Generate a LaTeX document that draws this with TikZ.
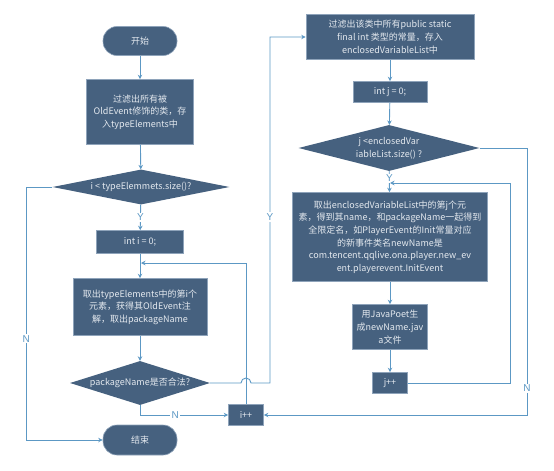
\documentclass[tikz,border=0pt]{standalone}
\usepackage{fontspec}
\setmainfont{Noto Sans CJK SC}
\newfontfamily\lblfont{Liberation Sans}
\usepackage{tikz}
\usetikzlibrary{shapes.geometric,arrows.meta}
\definecolor{boxfill}{HTML}{46617F}
\definecolor{boxedge}{HTML}{8EA3BA}
\definecolor{flow}{HTML}{5C98C4}
\definecolor{boxtext}{HTML}{E4E9EF}

\begin{document}
\begin{tikzpicture}[x=1pt, y=-1pt,
    every node/.style={font=\fontsize{9}{12.6}\selectfont, text=boxtext, align=center, inner sep=0pt},
    proc/.style={rectangle, fill=boxfill, draw=boxedge, line width=0.6pt},
    term/.style={proc, rounded corners=14pt},
    cond/.style={diamond, fill=boxfill, draw=none},
    line/.style={flow, line width=0.9pt, -{Stealth[length=4.5pt,width=4.5pt]}},
    yn/.style={text=flow, font=\lblfont\fontsize{10}{11}\selectfont, fill=white, inner sep=1.2pt}]
    \useasboundingbox (0,0) rectangle (554,471);

    \node[term, minimum width=74pt, minimum height=29pt] (start) at (140,41) {开始};
    \node[proc, minimum width=107pt, minimum height=65pt] (filt) at (140,112)
        {过滤出所有被\\OldEvent修饰的类，存\\入typeElements中};
    \node[cond, aspect=5, minimum width=177pt, minimum height=35pt] (cond1) at (141,187)
        {i < typeElemmets.size()?};
    \node[proc, minimum width=87pt, minimum height=23pt] (initi) at (140,242) {int i = 0;};
    \node[proc, minimum width=134pt, minimum height=57pt] (take) at (140,307)
        {取出typeElements中的第i个\\元素，获得其OldEvent注\\解，取出packageName};
    \node[cond, aspect=3.2, minimum width=140pt, minimum height=44pt] (cond2) at (140,383)
        {packageName是否合法?};
    \node[proc, minimum width=35pt, minimum height=21pt] (incri) at (246,415) {i++};
    \node[term, minimum width=74pt, minimum height=30pt] (stop) at (140,440) {结束};

    \node[proc, minimum width=168pt, minimum height=45pt] (filtj) at (390,37)
        {过滤出该类中所有public static\\final int 类型的常量，存入\\enclosedVariableList中};
    \node[proc, minimum width=74pt, minimum height=21pt] (initj) at (390,92) {int j = 0;};
    \node[cond, aspect=4, minimum width=181pt, minimum height=46pt] (cond3) at (389,148)
        {j <enclosedVar\\iableList.size() ?};
    \node[proc, minimum width=195pt, minimum height=89pt] (takej) at (390,237)
        {取出enclosedVariableList中的第j个元\\素，得到其name，和packageName一起得到\\全限定名，如PlayerEvent的Init常量对应\\的新事件类名newName是\\com.tencent.qqlive.ona.player.new\_ev\\ent.playerevent.InitEvent};
    \node[proc, minimum width=75pt, minimum height=45pt] (gen) at (390,327)
        {用JavaPoet生\\成newName.jav\\a文件};
    \node[proc, minimum width=35pt, minimum height=21pt] (incrj) at (390,383) {j++};

    \coordinate (loopi) at (141,263);
    \coordinate (loopj) at (390,183);

    \draw[line] (start) -- (filt);
    \draw[line] (filt) -- (cond1);
    \draw[line] (cond1) -- node[yn] {Y} (initi);
    \draw[line] (initi) -- (take);
    \draw[line] (take) -- (cond2);
    \draw[line] (cond2.south) |- node[yn, pos=0.7] {N} (incri.west);
    \draw[line] (cond1.west) -- ++(-26,0) |- node[yn, pos=0.3] {N} (stop.west);
    \draw[line] (incri.north) |- (loopi);
    \draw[line] (cond2.east) -- (241,383) arc[start angle=180, end angle=0, radius=5pt]
        -- (270,383) |- node[yn, pos=0.24] {Y} (filtj.west);

    \draw[line] (filtj) -- (initj);
    \draw[line] (initj) -- (cond3);
    \draw[line] (cond3) -- node[yn, pos=0.35] {Y} (takej);
    \draw[line] (takej) -- (gen);
    \draw[line] (gen) -- (incrj);
    \draw[line] (incrj.east) -- ++(103,0) |- (loopj);
    \draw[line] (cond3.east) -- (527,148) |- node[yn, pos=0.45] {N} (incri.east);
\end{tikzpicture}
\end{document}
